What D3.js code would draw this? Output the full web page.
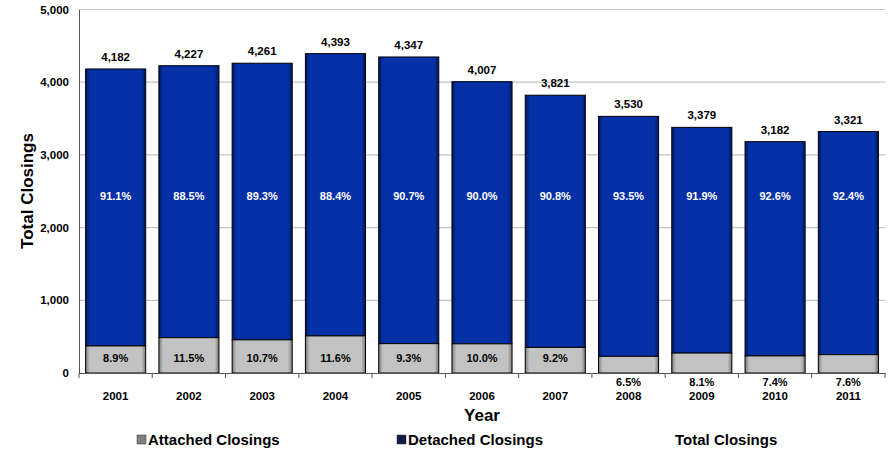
<!DOCTYPE html>
<html lang="en">
<head>
<meta charset="utf-8">
<title>Total Closings</title>
<script src="https://cdn.jsdelivr.net/npm/d3@7"></script>
<style>
  body { margin: 0; background: #fff; }
  text { font-family: "Liberation Sans", Arial, sans-serif; font-weight: bold; }
</style>
</head>
<body>
<svg id="chart" width="890" height="454"></svg>
<script>
// data
var years = ["2001","2002","2003","2004","2005","2006","2007","2008","2009","2010","2011"];
var totals = [4182, 4227, 4261, 4393, 4347, 4007, 3821, 3530, 3379, 3182, 3321];
var attached = [372, 486, 456, 510, 404, 401, 352, 229, 274, 235, 252];
var attachedPct = ["8.9%","11.5%","10.7%","11.6%","9.3%","10.0%","9.2%","6.5%","8.1%","7.4%","7.6%"];
var detachedPct = ["91.1%","88.5%","89.3%","88.4%","90.7%","90.0%","90.8%","93.5%","91.9%","92.6%","92.4%"];
var yTicks = [0, 1000, 2000, 3000, 4000, 5000];

var svg = d3.select("#chart");
var plotL = 79, plotR = 885, plotT = 9.5, plotB = 373;

var x = d3.scaleBand().domain(years).range([plotL, plotR]).paddingInner(0.18).paddingOuter(0.09);
var y = d3.scaleLinear().domain([0, 5000]).range([plotB, plotT]);
var fmt = d3.format(",");

var defs = svg.append("defs");
function hGrad(id, edge, mid) {
  var g = defs.append("linearGradient").attr("id", id).attr("x1", 0).attr("x2", 1).attr("y1", 0).attr("y2", 0);
  g.append("stop").attr("offset", "0%").attr("stop-color", edge);
  g.append("stop").attr("offset", "7%").attr("stop-color", mid);
  g.append("stop").attr("offset", "93%").attr("stop-color", mid);
  g.append("stop").attr("offset", "100%").attr("stop-color", edge);
}
hGrad("gBlue", "#02165e", "#0530a6");
hGrad("gGray", "#7a7a7a", "#c2c2c2");

// gridlines
svg.append("g").selectAll("line").data(yTicks.slice(1)).join("line")
  .attr("x1", plotL).attr("x2", plotR)
  .attr("y1", d => y(d)).attr("y2", d => y(d))
  .attr("stroke", "#c4c4c4").attr("stroke-width", 1.2);

// y axis
var yAxis = svg.append("g").attr("transform", "translate(" + plotL + ",0)")
  .call(d3.axisLeft(y).tickValues(yTicks).tickFormat(fmt).tickSize(0).tickPadding(10));
yAxis.select(".domain").attr("stroke", "#555");
yAxis.selectAll("text").attr("font-size", 11.5).attr("fill", "#000")
  .style("font-family", "Liberation Sans, Arial, sans-serif").style("font-weight", "bold");

// bars
var bars = svg.append("g");
years.forEach(function (yr, i) {
  var bx = x(yr), bw = x.bandwidth();
  bars.append("rect")
    .attr("x", bx).attr("width", bw)
    .attr("y", y(totals[i])).attr("height", y(attached[i]) - y(totals[i]))
    .attr("fill", "url(#gBlue)").attr("stroke", "#000").attr("stroke-width", 1);
  bars.append("rect")
    .attr("x", bx).attr("width", bw)
    .attr("y", y(attached[i])).attr("height", y(0) - y(attached[i]))
    .attr("fill", "url(#gGray)").attr("stroke", "#000").attr("stroke-width", 1);
});

// x axis
var xAxis = svg.append("g").attr("transform", "translate(0," + plotB + ")")
  .call(d3.axisBottom(x).tickSize(0).tickFormat(""));
xAxis.select(".domain").attr("stroke", "#555");
xAxis.selectAll(".tick").remove();
var step = x.step();
xAxis.selectAll("line.sep").data(d3.range(years.length + 1)).join("line")
  .attr("class", "sep")
  .attr("x1", d => plotL + d * step).attr("x2", d => plotL + d * step)
  .attr("y1", 0).attr("y2", 5).attr("stroke", "#555");

// year labels
svg.append("g").selectAll("text").data(years).join("text")
  .attr("x", d => x(d) + x.bandwidth() / 2).attr("y", 396).attr("dy", "0.35em")
  .attr("text-anchor", "middle").attr("font-size", 11.5).text(d => d);

// total labels
svg.append("g").selectAll("text").data(years).join("text")
  .attr("x", d => x(d) + x.bandwidth() / 2)
  .attr("y", (d, i) => y(totals[i]) - 12).attr("dy", "0.35em")
  .attr("text-anchor", "middle").attr("font-size", 11.5).text((d, i) => fmt(totals[i]));

// detached percentages
svg.append("g").selectAll("text").data(years).join("text")
  .attr("x", d => x(d) + x.bandwidth() / 2)
  .attr("y", y(2430)).attr("dy", "0.35em")
  .attr("text-anchor", "middle").attr("font-size", 11).attr("fill", "#fff")
  .text((d, i) => detachedPct[i]);

// attached percentages
svg.append("g").selectAll("text").data(years).join("text")
  .attr("x", d => x(d) + x.bandwidth() / 2)
  .attr("y", (d, i) => attached[i] >= 300 ? y(205) : plotB + 9).attr("dy", "0.35em")
  .attr("text-anchor", "middle").attr("font-size", 11).attr("fill", "#000")
  .text((d, i) => attachedPct[i]);

// axis titles
svg.append("text").attr("x", (plotL + plotR) / 2).attr("y", 415).attr("dy", "0.35em")
  .attr("text-anchor", "middle").attr("font-size", 17).text("Year");
svg.append("text").attr("transform", "translate(27,191) rotate(-90)").attr("dy", "0.35em")
  .attr("text-anchor", "middle").attr("font-size", 17).text("Total Closings");

// legend
var legend = [
  { label: "Attached Closings", x: 137, color: "#808080" },
  { label: "Detached Closings", x: 397, color: "#141a48" },
  { label: "Total Closings", x: 664, color: null }
];
var lg = svg.append("g").selectAll("g").data(legend).join("g")
  .attr("transform", d => "translate(" + d.x + ",440)");
lg.filter(d => d.color).append("rect")
  .attr("x", 0).attr("y", -5).attr("width", 9).attr("height", 9)
  .attr("fill", d => d.color).attr("stroke", "#333").attr("stroke-width", 0.5);
lg.append("text").attr("x", 11).attr("dy", "0.35em").attr("font-size", 15).text(d => d.label);
</script>
</body>
</html>
